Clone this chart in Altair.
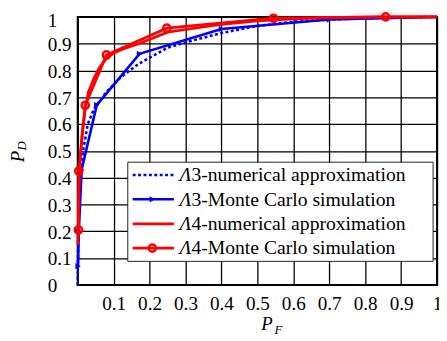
import altair as alt
import pandas as pd

# ---------------- data ----------------
ticks = [0.0, 0.1, 0.2, 0.3, 0.4, 0.5, 0.6, 0.7, 0.8, 0.9, 1.0]

series_names = [
    "3-numerical approximation",
    "3-Monte Carlo simulation",
    "4-numerical approximation",
    "4-Monte Carlo simulation",
]

# Lambda3 numerical approximation (blue dotted)
pf3n = [0.0, 0.0005, 0.002, 0.005, 0.009, 0.015, 0.028, 0.045, 0.06, 0.08, 0.12,
        0.17, 0.25, 0.3, 0.4, 0.5, 0.6, 0.7, 0.8, 0.9, 1.0]
pd3n = [0.0, 0.08, 0.2, 0.31, 0.41, 0.5, 0.6, 0.655, 0.685, 0.72, 0.775,
        0.825, 0.885, 0.905, 0.94, 0.966, 0.982, 0.99, 0.995, 0.998, 1.0]

# Lambda3 Monte Carlo simulation (blue, triangle markers)
pf3m = [0.001, 0.003, 0.011, 0.053, 0.172, 0.4, 0.7, 1.0]
pd3m = [0.07, 0.2, 0.43, 0.671, 0.862, 0.955, 0.99, 1.0]

# Lambda4 numerical approximation (red solid)
pf4n = [0.0005, 0.002, 0.004, 0.007, 0.012, 0.02, 0.03, 0.045, 0.06, 0.08, 0.1,
        0.13, 0.17, 0.25, 0.3, 0.4, 0.5, 0.6, 0.7, 0.85, 1.0]
pd4n = [0.15, 0.25, 0.37, 0.47, 0.56, 0.65, 0.72, 0.77, 0.81, 0.845, 0.865,
        0.882, 0.9, 0.943, 0.953, 0.972, 0.985, 0.993, 0.997, 1.0, 1.0]

# Lambda4 Monte Carlo simulation (red, circle markers; last point has no marker)
pf4m = [0.002, 0.003, 0.021, 0.08, 0.248, 0.545, 0.857, 1.0]
pd4m = [0.205, 0.425, 0.67, 0.858, 0.958, 0.995, 1.0, 1.0]

BLUE = "#0000ff"
RED = "#ff0000"
FONT = "'Liberation Serif', 'Times New Roman', serif"
W, H = 366, 273

xs = alt.Scale(domain=[0, 1], nice=False, zero=False)
ys = alt.Scale(domain=[0, 1], nice=False, zero=False)


def df(pf, pdv):
    return pd.DataFrame({"pf": pf, "pd": pdv, "i": list(range(len(pf)))})


x_axis = alt.Axis(values=ticks, format=".1~f",
                  labelExpr="datum.value == 0 ? '' : datum.label",
                  title=None, grid=True, ticks=False, domain=False,
                  labelPadding=10, labelFlush=False, labelOverlap=False,
                  labelFontSize=19.5, labelFont=FONT, labelColor="black",
                  labelBaseline="top",
                  gridColor="black", gridWidth=1.3, gridOpacity=1)
y_axis = alt.Axis(values=ticks, format=".1~f", title=None, grid=True,
                  ticks=False, domain=False, labelPadding=31,
                  labelFlush=False, labelOverlap=False, labelAlign="left",
                  labelBaseline="middle",
                  labelOffset={"condition": {"test": "datum.value == 1", "value": 4},
                               "value": 1},
                  labelFontSize=19.5, labelFont=FONT, labelColor="black",
                  gridColor="black", gridWidth=1.3, gridOpacity=1)

enc_x = alt.X("pf:Q", scale=xs, axis=x_axis)
enc_y = alt.Y("pd:Q", scale=ys, axis=y_axis)

blue_num = alt.Chart(df(pf3n, pd3n)).mark_line(
    color=BLUE, strokeWidth=2.6, strokeDash=[3, 2.5], strokeCap="butt"
).encode(x=enc_x, y=enc_y, order="i:Q")

blue_mc_line = alt.Chart(df(pf3m, pd3m)).mark_line(
    color=BLUE, strokeWidth=2.6).encode(x=enc_x, y=enc_y, order="i:Q")
blue_mc_pts = alt.Chart(df(pf3m[:-1], pd3m[:-1])).mark_point(
    shape="triangle-right", filled=True, color=BLUE, size=40, opacity=1
).encode(x=enc_x, y=enc_y)

red_num = alt.Chart(df(pf4n, pd4n)).mark_line(
    color=RED, strokeWidth=2.8).encode(x=enc_x, y=enc_y, order="i:Q")
red_mc_line = alt.Chart(df(pf4m, pd4m)).mark_line(
    color=RED, strokeWidth=2.8).encode(x=enc_x, y=enc_y, order="i:Q")
red_mc_pts = alt.Chart(df(pf4m[:-1], pd4m[:-1])).mark_point(
    shape="circle", filled=False, color=RED, size=55, strokeWidth=2.5, opacity=1
).encode(x=enc_x, y=enc_y)

one = pd.DataFrame({"k": [0]})


def txt(s, x, y, size=20, italic=False, angle=0, color="black"):
    return alt.Chart(one).mark_text(
        text=s, font=FONT, fontSize=size, fontStyle="italic" if italic else "normal",
        align="left", baseline="alphabetic", angle=angle, color=color
    ).encode(x=alt.value(x), y=alt.value(y))


# axis titles
titles = [
    txt("P", 187, 319, 19, True),
    txt("F", 200.5, 323, 13, True),
    txt("P", -55, 148, 19, True, 270),
    txt("D", -53, 136, 13, True, 270),
]

# legend
legend_box = alt.Chart(one).mark_rect(
    fill="white", stroke="#222222", strokeWidth=1
).encode(x=alt.value(51), x2=alt.value(362), y=alt.value(148), y2=alt.value(249))

row_y = [161, 185.8, 210.7, 235.5]
legend_layers = [legend_box]
styles = [
    dict(color=BLUE, strokeDash=[3, 2.5], strokeWidth=2.6),
    dict(color=BLUE, strokeWidth=2.6),
    dict(color=RED, strokeWidth=2.8),
    dict(color=RED, strokeWidth=2.8),
]
for k, name in enumerate(series_names):
    yy = row_y[k]
    legend_layers.append(
        alt.Chart(one).mark_rule(strokeCap="butt", **styles[k]).encode(
            x=alt.value(56), x2=alt.value(98), y=alt.value(yy)))
    if k == 1:
        legend_layers.append(alt.Chart(one).mark_point(
            shape="triangle-right", filled=True, color=BLUE, size=40, opacity=1
        ).encode(x=alt.value(76), y=alt.value(yy)))
    if k == 3:
        legend_layers.append(alt.Chart(one).mark_point(
            shape="circle", filled=False, color=RED, size=55, strokeWidth=2.5, opacity=1
        ).encode(x=alt.value(76), y=alt.value(yy)))
    legend_layers.append(txt("\u039b", 103.7, yy + 6.5, 20, True))
    legend_layers.append(txt(name, 115.8, yy + 6.5, 20))

chart = alt.layer(
    blue_num, blue_mc_line, blue_mc_pts, red_num, red_mc_line, red_mc_pts,
    *titles, *legend_layers
).properties(
    width=W, height=H,
    autosize=alt.AutoSizeParams(type="none"),
    padding={"left": 71, "top": 6, "right": 2, "bottom": 52},
    background="white",
).configure_view(stroke="black", strokeWidth=2)

chart.save("out.html", embed_options={"renderer": "svg", "actions": False})
